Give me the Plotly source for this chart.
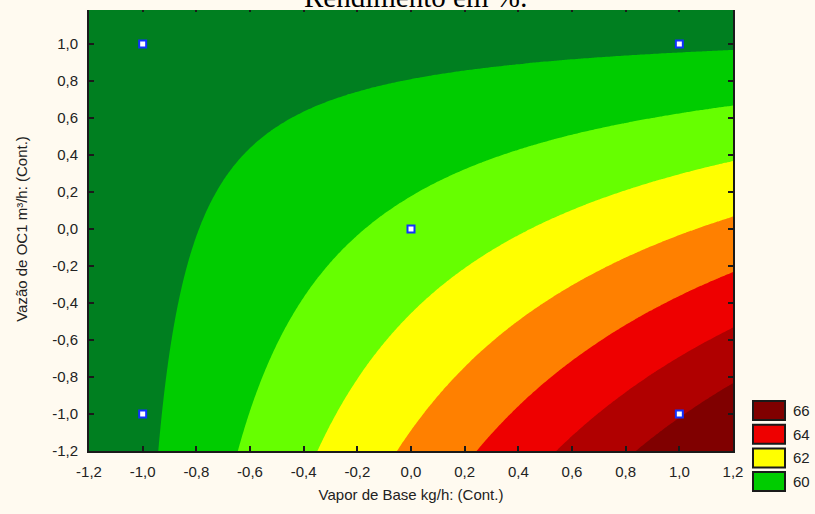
import numpy as np
import plotly.graph_objects as go

# Coded design points (factorial corners + centre) and measured yield (%)
vapor_base = [-1.0, -1.0, 1.0, 1.0, 0.0]
vazao_oc1 = [-1.0, 1.0, -1.0, 1.0, 0.0]
rendimento = [59.78, 59.54, 65.94, 59.86, 61.28]

# Contour levels and band colours (below 60 ... above 66)
levels = [60, 61, 62, 63, 64, 65, 66]
band_colors = ["#007F20", "#00CC00", "#66FF00", "#FFFF00",
               "#FF8000", "#EE0000", "#B00000", "#800000"]

# Legend entries
legend_levels = [66, 64, 62, 60]
legend_colors = ["#800000", "#EE0000", "#FFFF00", "#00CC00"]

# Axis ticks
tick_vals = [-1.2, -1.0, -0.8, -0.6, -0.4, -0.2, 0.0, 0.2, 0.4, 0.6, 0.8, 1.0, 1.2]
tick_text = ["-1,2", "-1,0", "-0,8", "-0,6", "-0,4", "-0,2", "0,0",
             "0,2", "0,4", "0,6", "0,8", "1,0", "1,2"]

# First-order model with interaction fitted to the design points
xd = np.array(vapor_base)
yd = np.array(vazao_oc1)
A = np.column_stack([np.ones_like(xd), xd, yd, xd * yd])
coef, *_ = np.linalg.lstsq(A, np.array(rendimento), rcond=None)

grid = np.linspace(-1.2, 1.2, 241)
GX, GY = np.meshgrid(grid, grid)
Z = coef[0] + coef[1] * GX + coef[2] * GY + coef[3] * GX * GY

# Stepped colour scale: one flat colour per filled band
n = len(band_colors)
colorscale = []
for i, c in enumerate(band_colors):
    lo = 0.0 if i == 0 else (i - 0.5) / (n - 1)
    hi = 1.0 if i == n - 1 else (i + 0.5) / (n - 1)
    colorscale.append([lo, c])
    colorscale.append([hi, c])

BG = "#FFFAF0"
W, H = 815, 514
ML, MR, MT, MB = 89, 82, 7, 63
PW, PH = W - ML - MR, H - MT - MB


def px_to_paper_x(px):
    return (px - ML) / PW


def px_to_paper_y(py):
    return (H - MB - py) / PH


fig = go.Figure()
fig.add_trace(go.Contour(
    x=grid, y=grid, z=Z,
    autocontour=False,
    contours=dict(start=levels[0], end=levels[-1], size=1,
                  coloring="fill", showlines=False),
    line=dict(width=0),
    colorscale=colorscale,
    showscale=False,
    hoverinfo="skip",
))
fig.add_trace(go.Scatter(
    x=vapor_base, y=vazao_oc1, mode="markers",
    marker=dict(symbol="square", size=7, color="white",
                line=dict(color="#1030FF", width=2)),
    showlegend=False, hoverinfo="skip",
))

tick_font = dict(family="Liberation Sans, Arial", size=15, color="#222222")
axis_common = dict(
    tickmode="array", tickvals=tick_vals, ticktext=tick_text,
    ticks="inside", ticklen=5, tickwidth=2, tickcolor="#1a1a1a",
    showline=True, linecolor="#1a1a1a", linewidth=2, mirror="ticks",
    showgrid=False, zeroline=False, tickfont=tick_font,
    ticklabelstandoff=6, automargin=False,
)

fig.update_layout(
    width=W, height=H,
    margin=dict(l=ML, r=MR, t=MT, b=MB, pad=0, autoexpand=False),
    paper_bgcolor=BG, plot_bgcolor=BG,
    showlegend=False,
    xaxis=dict(range=[-1.2, 1.2], **axis_common,
               title=dict(text="Vapor de Base kg/h: (Cont.)",
                          font=dict(family="Liberation Sans, Arial", size=15, color="#222222"),
                          standoff=10)),
    yaxis=dict(range=[-1.2, 1.2], **axis_common,
               title=dict(text="Vazão de OC1 m³/h: (Cont.)",
                          font=dict(family="Liberation Sans, Arial", size=15, color="#222222"),
                          standoff=21)),
)

# Title box hides the top strip of the plot frame
fig.add_shape(type="rect", xref="paper", yref="paper",
              x0=px_to_paper_x(82), x1=px_to_paper_x(742),
              y0=px_to_paper_y(10), y1=px_to_paper_y(-5),
              fillcolor=BG, line=dict(width=0), layer="above")
fig.add_annotation(text="Rendimento em %:", xref="paper", yref="paper",
                   x=px_to_paper_x(416), y=px_to_paper_y(7),
                   xanchor="center", yanchor="bottom", yshift=-8,
                   showarrow=False,
                   font=dict(family="Liberation Serif, Times New Roman", size=29, color="#000000"))

# Level legend
box_top0, pitch, box_h = 401, 23.7, 19
for k, (lev, col) in enumerate(zip(legend_levels, legend_colors)):
    top = box_top0 + k * pitch
    fig.add_shape(type="rect", xref="paper", yref="paper",
                  x0=px_to_paper_x(753), x1=px_to_paper_x(785),
                  y0=px_to_paper_y(top + box_h), y1=px_to_paper_y(top),
                  fillcolor=col, line=dict(color="#1a1a1a", width=2))
    fig.add_annotation(text=str(lev), xref="paper", yref="paper",
                       x=px_to_paper_x(791), y=px_to_paper_y(top + box_h / 2),
                       xanchor="left", yanchor="middle", showarrow=False,
                       font=dict(family="Liberation Sans, Arial", size=15, color="#222222"))

fig.write_html("out.html")
